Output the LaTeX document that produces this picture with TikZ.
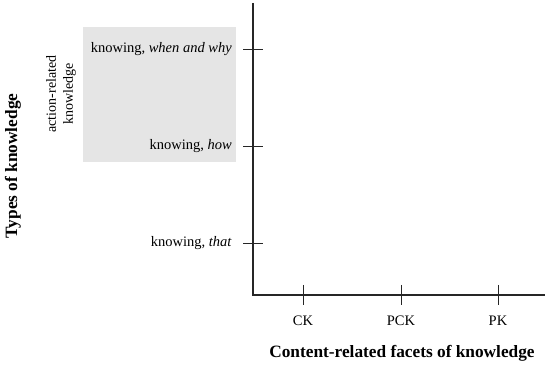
\documentclass[tikz,border=0pt]{standalone}
\usepackage{fontspec}
\setmainfont{Liberation Serif}
\begin{document}
\begin{tikzpicture}[x=1pt,y=-1pt,
  lbl/.style={font=\fontsize{14.5}{16.5}\selectfont, inner sep=0pt},
  ttl/.style={font=\fontsize{17.3}{20}\selectfont\bfseries, inner sep=0pt},
  axisline/.style={line width=1.1pt, draw=black!85},
  tickline/.style={line width=0.7pt, draw=black!85}]
\useasboundingbox (0,0) rectangle (550,366);
\fill[black!10] (83,27) rectangle (236,162);
\coordinate (top) at (253,3);
\coordinate (origin) at (253,295);
\coordinate (right) at (545,295);
\draw[axisline] (top) -- (origin) -- (right);
% y ticks
\foreach \n/\y in {wy/49, hy/146, ty/243}{
  \coordinate (\n a) at (243,\y);
  \coordinate (\n b) at (263,\y);
  \draw[tickline] (\n a) -- (\n b);
}
% x ticks
\foreach \n/\x in {ck/303, pck/401, pk/498}{
  \coordinate (\n a) at (\x,285);
  \coordinate (\n b) at (\x,305);
  \draw[tickline] (\n a) -- (\n b);
}
\node[lbl, anchor=east] (when) at (232,49) {knowing, \textit{when and why}};
\node[lbl, anchor=east] (how) at (232,146) {knowing, \textit{how}};
\node[lbl, anchor=east] (that) at (232,243) {knowing, \textit{that}};
\node[lbl, font=\fontsize{14}{17}\selectfont, rotate=90, align=center] (action) at (61,94) {action-related\\knowledge};
\node[ttl, rotate=90] (types) at (13,166) {Types of knowledge};
\node[lbl] (ck) at (303,321) {CK};
\node[lbl] (pck) at (401,321) {PCK};
\node[lbl] (pk) at (498,321) {PK};
\node[ttl] (content) at (402,353) {Content-related facets of knowledge};
\end{tikzpicture}
\end{document}
